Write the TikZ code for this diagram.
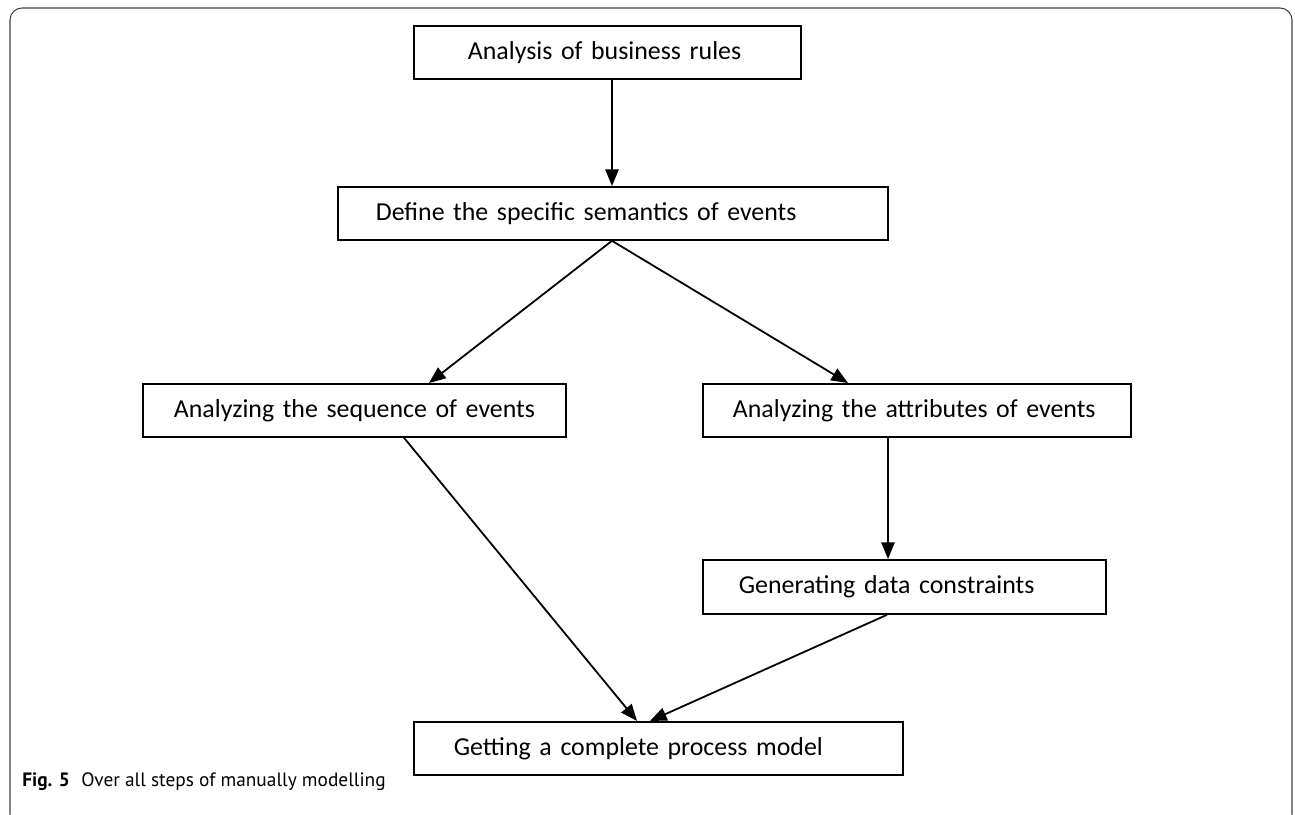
\documentclass[tikz,border=0pt]{standalone}
\usepackage{fontspec}
\setmainfont{Carlito}
\newfontfamily\capfont{PT Sans}
\usetikzlibrary{arrows.meta,calc}
\begin{document}
\begin{tikzpicture}[x=0.75pt,y=-0.75pt,
  box/.style={draw=black, line width=1.35pt, rectangle, inner xsep=0pt, inner ysep=0pt,
    anchor=north west, align=left, font=\fontsize{19.4}{22}\selectfont, minimum height=39.75pt},
  arr/.style={draw=black, line width=1.35pt, -{Triangle[length=12.5pt,width=10pt]}},
  frame/.style={draw=black!75, line width=0.8pt, rounded corners=9pt}]
\useasboundingbox (0,0) rectangle (1295,814);
\clip (0,0) rectangle (1295,814);
\draw[frame] (10,8) rectangle (1292,826);

\node[box, text width=290.25pt] (b1) at (413,25) {\hspace*{40.5pt}Analysis of business rules};
\node[box, text width=412.5pt] (b2) at (337,186) {\hspace*{28.5pt}Define the specific semantics of events};
\node[box, text width=317.25pt] (b3) at (142,383) {\hspace*{23.25pt}Analyzing the sequence of events};
\node[box, text width=321pt] (b4) at (702,383) {\hspace*{22.5pt}Analyzing the attributes of events};
\node[box, text width=302.25pt, minimum height=40.5pt] (b5) at (702,559) {\hspace*{27pt}Generating data constraints};
\node[box, text width=366.75pt] (b6) at (413,721) {\hspace*{30pt}Getting a complete process model};

\node[anchor=base west, inner sep=0pt, font=\capfont\fontsize{14.5}{16}\selectfont] (cap) at (22,786)
  {\textbf{Fig. 5}\hspace{0.6em}Over all steps of manually modelling};

\coordinate (xa) at (612,0);
\coordinate (xl) at (429,0);
\coordinate (xr) at (848,0);
\coordinate (xd) at (888,0);
\coordinate (xm1) at (637,0);
\coordinate (xm2) at (650,0);
\coordinate (xs5) at (887,0);
\coordinate (xs3) at (404,0);

\draw[arr] (b1.south -| xa) -- (b2.north -| xa);
\draw[arr] (b2.south -| xa) -- (b3.north -| xl);
\draw[arr] (b2.south -| xa) -- (b4.north -| xr);
\draw[arr] (b4.south -| xd) -- (b5.north -| xd);
\draw[arr] (b3.south -| xs3) -- (b6.north -| xm1);
\draw[arr] (b5.south -| xs5) -- (b6.north -| xm2);
\end{tikzpicture}
\end{document}
